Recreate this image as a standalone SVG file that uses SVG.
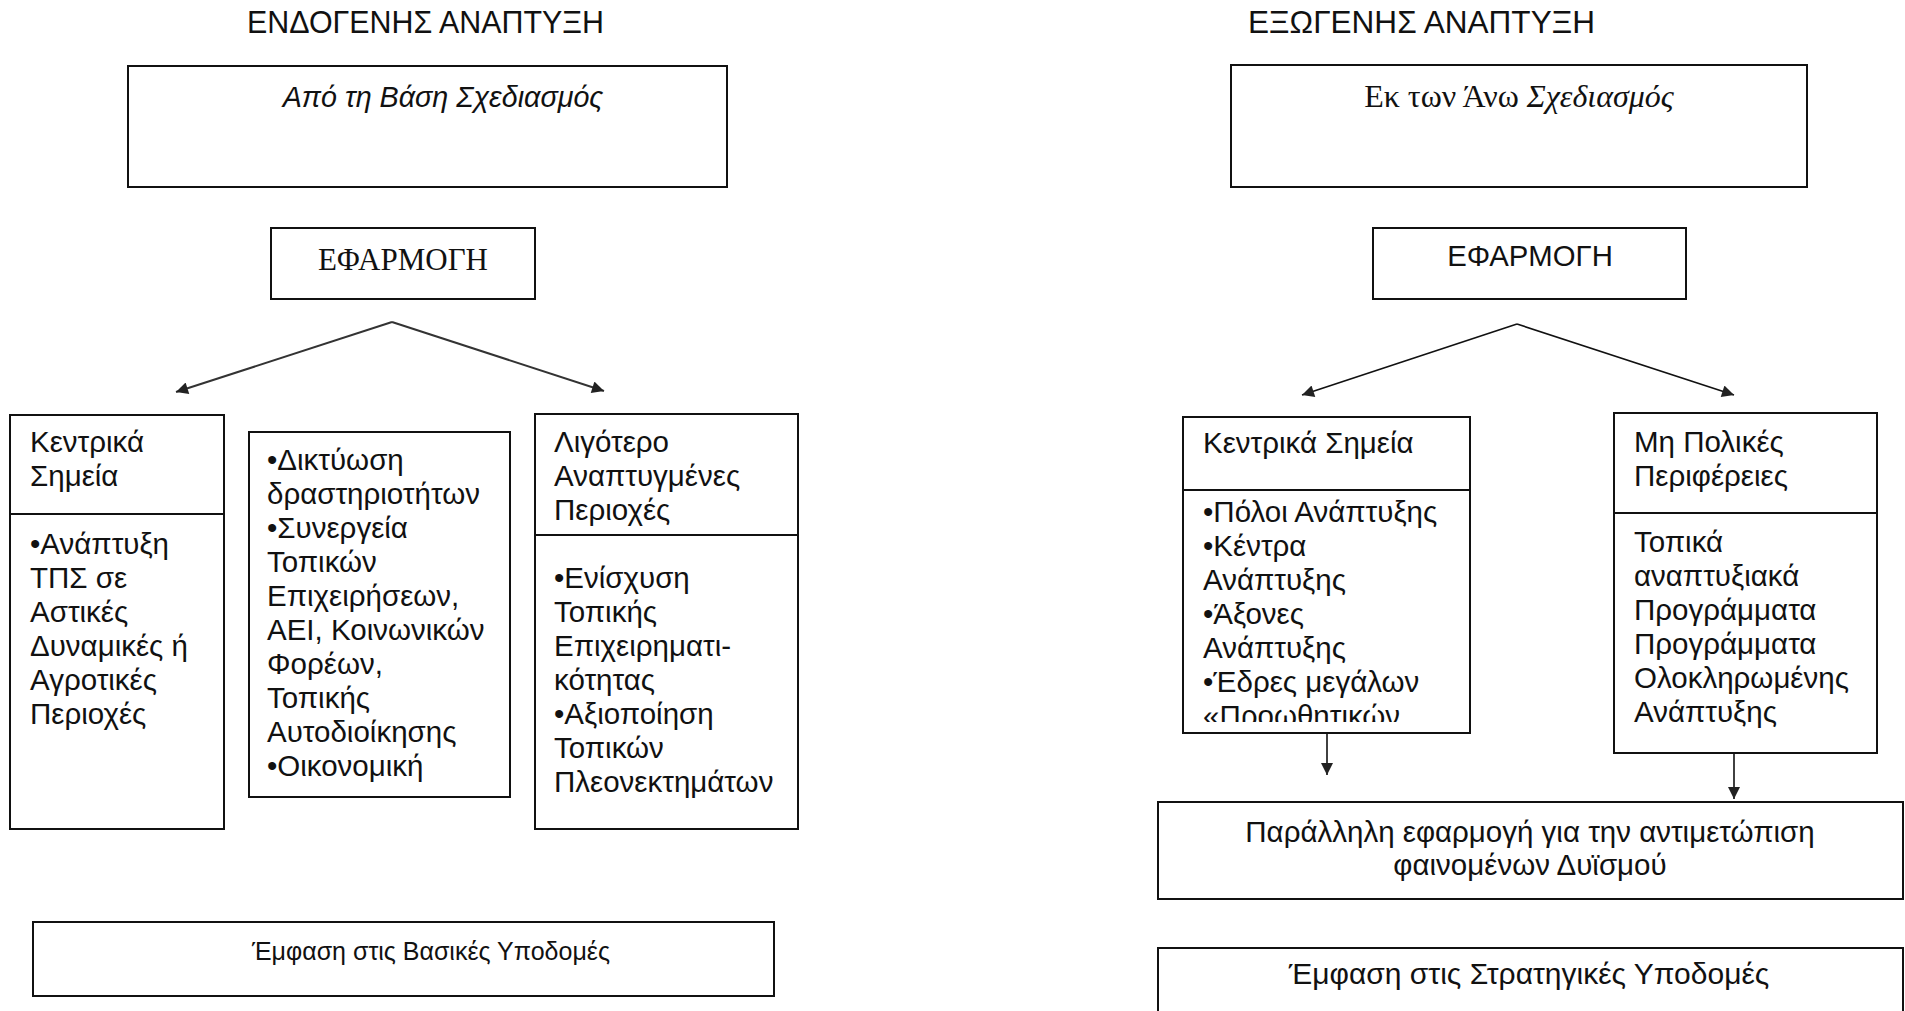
<svg xmlns="http://www.w3.org/2000/svg" width="1905" height="1011" viewBox="0 0 1905 1011">
<style>
.box{fill:none;stroke:#111;stroke-width:2}
.sans{font-family:"Liberation Sans",Arial,sans-serif;fill:#111}
.serif{font-family:"Liberation Serif","Times New Roman",serif;fill:#111}
.t28{font-size:29.5px}
.title{font-size:31px}
.conn{fill:none;stroke:#333;stroke-width:2}
.connk{fill:none;stroke:#111;stroke-width:1.6}
</style>
<defs>
<marker id="ah" viewBox="0 0 10 10" refX="10" refY="5" markerWidth="14" markerHeight="12" markerUnits="userSpaceOnUse" orient="auto">
<path d="M0,0 L10,5 L0,10 z" fill="#222"/>
</marker>
<clipPath id="clipK"><rect x="1183" y="492" width="287" height="230"/></clipPath>
</defs>
<rect width="1905" height="1011" fill="#fff"/>

<g id="title-left"><text class="sans title" x="247" y="33" textLength="357" lengthAdjust="spacingAndGlyphs">ΕΝΔΟΓΕΝΗΣ ΑΝΑΠΤΥΞΗ</text></g>
<g id="title-right"><text class="sans title" x="1248" y="33" textLength="347" lengthAdjust="spacingAndGlyphs">ΕΞΩΓΕΝΗΣ ΑΝΑΠΤΥΞΗ</text></g>

<g id="left-planning">
<rect class="box" x="128" y="66" width="599" height="121"/>
<text class="sans" font-size="28.7" font-style="italic" x="443" y="107" text-anchor="middle">Από τη Βάση Σχεδιασμός</text>
</g>
<g id="left-efarmogi">
<rect class="box" x="271" y="228" width="264" height="71"/>
<text class="serif" font-size="31" x="403" y="270" text-anchor="middle">ΕΦΑΡΜΟΓΗ</text>
</g>

<g id="left-kentrika">
<rect class="box" x="10" y="415" width="214" height="414"/>
<line class="box" x1="10" y1="514" x2="224" y2="514"/>
<text class="sans t28"><tspan x="30" y="452">Κεντρικά</tspan><tspan x="30" y="486">Σημεία</tspan></text>
<text class="sans t28"><tspan x="30" y="554">•Ανάπτυξη</tspan><tspan x="30" y="588">ΤΠΣ σε</tspan><tspan x="30" y="622">Αστικές</tspan><tspan x="30" y="656">Δυναμικές ή</tspan><tspan x="30" y="690">Αγροτικές</tspan><tspan x="30" y="724">Περιοχές</tspan></text>
</g>

<g id="left-middle">
<rect class="box" x="249" y="432" width="261" height="365"/>
<text class="sans t28"><tspan x="267" y="470">•Δικτύωση</tspan><tspan x="267" y="504">δραστηριοτήτων</tspan><tspan x="267" y="538">•Συνεργεία</tspan><tspan x="267" y="572">Τοπικών</tspan><tspan x="267" y="606">Επιχειρήσεων,</tspan><tspan x="267" y="640">ΑΕΙ, Κοινωνικών</tspan><tspan x="267" y="674">Φορέων,</tspan><tspan x="267" y="708">Τοπικής</tspan><tspan x="267" y="742">Αυτοδιοίκησης</tspan><tspan x="267" y="776">•Οικονομική</tspan></text>
</g>

<g id="left-ligotero">
<rect class="box" x="535" y="414" width="263" height="415"/>
<line class="box" x1="535" y1="535" x2="798" y2="535"/>
<text class="sans t28"><tspan x="554" y="452">Λιγότερο</tspan><tspan x="554" y="486">Αναπτυγμένες</tspan><tspan x="554" y="520">Περιοχές</tspan></text>
<text class="sans t28"><tspan x="554" y="588">•Ενίσχυση</tspan><tspan x="554" y="622">Τοπικής</tspan><tspan x="554" y="656">Επιχειρηματι-</tspan><tspan x="554" y="690">κότητας</tspan><tspan x="554" y="724">•Αξιοποίηση</tspan><tspan x="554" y="758">Τοπικών</tspan><tspan x="554" y="792">Πλεονεκτημάτων</tspan></text>
</g>

<g id="left-emfasi">
<rect class="box" x="33" y="922" width="741" height="74"/>
<text class="sans" font-size="25" x="431" y="960" text-anchor="middle">Έμφαση στις Βασικές Υποδομές</text>
</g>

<g id="right-planning">
<rect class="box" x="1231" y="65" width="576" height="122"/>
<text class="serif" font-size="32" x="1519" y="107" text-anchor="middle">Εκ των Άνω <tspan font-style="italic">Σχεδιασμός</tspan></text>
</g>
<g id="right-efarmogi">
<rect class="box" x="1373" y="228" width="313" height="71"/>
<text class="sans" font-size="29.3" x="1530" y="266" text-anchor="middle">ΕΦΑΡΜΟΓΗ</text>
</g>

<g id="right-kentrika">
<rect class="box" x="1183" y="417" width="287" height="316"/>
<line class="box" x1="1183" y1="490" x2="1470" y2="490"/>
<text class="sans t28" x="1203" y="453">Κεντρικά Σημεία</text>
<text class="sans t28" clip-path="url(#clipK)"><tspan x="1203" y="522">•Πόλοι Ανάπτυξης</tspan><tspan x="1203" y="556">•Κέντρα</tspan><tspan x="1203" y="590">Ανάπτυξης</tspan><tspan x="1203" y="624">•Άξονες</tspan><tspan x="1203" y="658">Ανάπτυξης</tspan><tspan x="1203" y="692">•Έδρες μεγάλων</tspan><tspan x="1203" y="726">«Προωθητικών</tspan></text>
</g>

<g id="right-mi-polikes">
<rect class="box" x="1614" y="413" width="263" height="340"/>
<line class="box" x1="1614" y1="513" x2="1877" y2="513"/>
<text class="sans t28"><tspan x="1634" y="452">Μη Πολικές</tspan><tspan x="1634" y="486">Περιφέρειες</tspan></text>
<text class="sans t28"><tspan x="1634" y="552">Τοπικά</tspan><tspan x="1634" y="586">αναπτυξιακά</tspan><tspan x="1634" y="620">Προγράμματα</tspan><tspan x="1634" y="654">Προγράμματα</tspan><tspan x="1634" y="688">Ολοκληρωμένης</tspan><tspan x="1634" y="722">Ανάπτυξης</tspan></text>
</g>

<g id="right-parallili">
<rect class="box" x="1158" y="802" width="745" height="97"/>
<text class="sans t28" text-anchor="middle"><tspan x="1530" y="842">Παράλληλη εφαρμογή για την αντιμετώπιση</tspan><tspan x="1530" y="875">φαινομένων Δυϊσμού</tspan></text>
</g>

<g id="right-emfasi">
<rect class="box" x="1158" y="948" width="745" height="80"/>
<text class="sans" font-size="30" x="1529" y="984" text-anchor="middle">Έμφαση στις Στρατηγικές Υποδομές</text>
</g>

<g id="connectors">
<path class="conn" d="M392,322 L176,392" marker-end="url(#ah)"/>
<path class="conn" d="M392,322 L604,391" marker-end="url(#ah)"/>
<path class="connk" d="M1517,324 L1302,395" marker-end="url(#ah)"/>
<path class="connk" d="M1517,324 L1734,395" marker-end="url(#ah)"/>
<path class="connk" d="M1327,733 L1327,775" marker-end="url(#ah)"/>
<path class="connk" d="M1734,753 L1734,799" marker-end="url(#ah)"/>
</g>
</svg>
